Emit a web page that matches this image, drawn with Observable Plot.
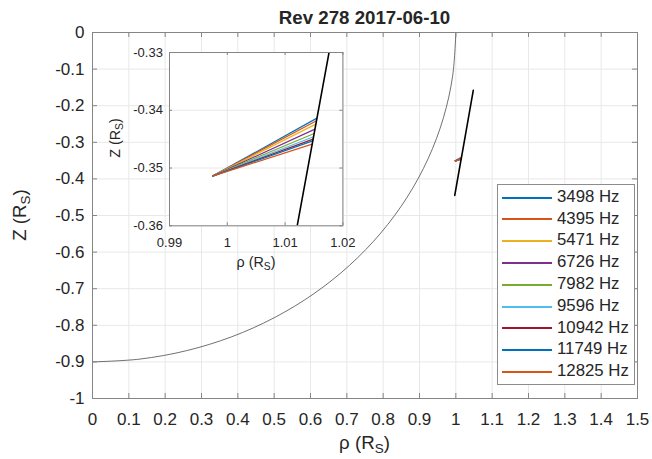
<!DOCTYPE html>
<html><head><meta charset="utf-8">
<script src="https://cdn.jsdelivr.net/npm/d3@7"></script>
<script src="https://cdn.jsdelivr.net/npm/@observablehq/plot@0.6"></script>
<style>
body{margin:0;background:#fff;}
#wrap{position:relative;width:652px;height:459px;overflow:hidden;font-family:"Liberation Sans",Arial,Helvetica,sans-serif;color:#262626;background:#fff;}
#wrap svg{position:absolute;}
.lbl{position:absolute;white-space:nowrap;line-height:1;}
.lbl sub{font-size:0.72em;vertical-align:-0.32em;line-height:0;}
.rot{transform-origin:0 0;}
#legend{position:absolute;left:497px;top:184px;width:138px;height:201px;border:1px solid #8c8c8c;background:#fff;box-sizing:border-box;}
.sw{position:absolute;left:4px;width:50px;height:2px;}
.lt{position:absolute;left:59px;font-size:16.8px;line-height:1;white-space:nowrap;}
</style>
</head><body>
<div id="wrap"></div>
<script>
// ---- data ----
const title = "Rev 278 2017-06-10";
const freqLabels = ["3498 Hz","4395 Hz","5471 Hz","6726 Hz","7982 Hz","9596 Hz","10942 Hz","11749 Hz","12825 Hz"];
const rayColors = ["#0072BD","#D95319","#EDB120","#7E2F8E","#77AC30","#4DBEEE","#A2142F","#0072BD","#D95319"];
const rayStartRho = [0.99744,0.99744,0.99744,0.99744,0.99744,0.99744,0.99744,0.99744,0.99744];
const rayStartZ = [-0.3514,-0.3514,-0.3514,-0.3514,-0.3514,-0.3514,-0.3514,-0.3514,-0.3514];
const rayEndRho = [1.01551,1.01543,1.01532,1.01517,1.01503,1.01492,1.01485,1.01479,1.01469];
const rayEndZ = [-0.34136,-0.34182,-0.3424,-0.34326,-0.34402,-0.34459,-0.34499,-0.34529,-0.34586];
const trajRho = [0.997,1.01209,1.01751,1.048];
const trajZ = [-0.445,-0.36,-0.3305,-0.158];
// Saturn limb (quarter ellipse, equatorial 1, polar 0.9)
const limbRho = [1,0.9914,0.9659,0.9239,0.866,0.7934,0.7071,0.6088,0.5,0.3827,0.2588,0.1305,0];
const limbZ = [0,-0.1175,-0.2329,-0.3444,-0.45,-0.5479,-0.6364,-0.714,-0.7794,-0.8315,-0.8693,-0.8923,-0.9];
const xTicks = [0,0.1,0.2,0.3,0.4,0.5,0.6,0.7,0.8,0.9,1,1.1,1.2,1.3,1.4,1.5];
const xTickLabels = ["0","0.1","0.2","0.3","0.4","0.5","0.6","0.7","0.8","0.9","1","1.1","1.2","1.3","1.4","1.5"];
const yTicks = [-1,-0.9,-0.8,-0.7,-0.6,-0.5,-0.4,-0.3,-0.2,-0.1,0];
const yTickLabels = ["-1","-0.9","-0.8","-0.7","-0.6","-0.5","-0.4","-0.3","-0.2","-0.1","0"];
const inXTicks = [0.99,1,1.01,1.02];
const inXTickLabels = ["0.99","1","1.01","1.02"];
const inYTicks = [-0.36,-0.35,-0.34,-0.33];
const inYTickLabels = ["-0.36","-0.35","-0.34","-0.33"];

// ---- tables ----
const rays = freqLabels.map((f,i)=>({f, x1:rayStartRho[i], y1:rayStartZ[i], x2:rayEndRho[i], y2:rayEndZ[i]}));
const traj = trajRho.map((r,i)=>({x:r, y:trajZ[i]}));
const limb = limbRho.map((r,i)=>({x:r, y:limbZ[i]}));
const color = {domain: freqLabels, range: rayColors};
const gridC = "#e8e8e8", frameC = "#858585";

const wrap = document.getElementById("wrap");

// ---- main plot ----
const W=652,H=459,mL=92,mR=15,mT=32,mB=61;
const pw=W-mL-mR, ph=H-mT-mB;
const main = Plot.plot({
  width:W, height:H, marginLeft:mL, marginRight:mR, marginTop:mT, marginBottom:mB,
  x:{domain:[0,1.5]}, y:{domain:[-1,0]}, color,
  style:{fontFamily:"'Liberation Sans',Arial,sans-serif", fontSize:"17px", color:"#262626", background:"transparent", overflow:"visible"},
  marks:[
    Plot.gridX(xTicks,{stroke:gridC, strokeOpacity:1}),
    Plot.gridY(yTicks,{stroke:gridC, strokeOpacity:1}),
    Plot.line(limb,{x:"x", y:"y", curve:"catmull-rom", stroke:"#333", strokeWidth:0.7, clip:true}),
    Plot.link(rays,{x1:"x1",y1:"y1",x2:"x2",y2:"y2", stroke:"f", strokeWidth:1.5}),
    Plot.line(traj,{x:"x", y:"y", stroke:"#000", strokeWidth:1.6}),
    Plot.ruleX(xTicks,{x:d=>d, insetTop:ph-5, stroke:frameC}),
    Plot.ruleX(xTicks,{x:d=>d, insetBottom:ph-5, stroke:frameC}),
    Plot.ruleY(yTicks,{y:d=>d, insetRight:pw-5, stroke:frameC}),
    Plot.ruleY(yTicks,{y:d=>d, insetLeft:pw-5, stroke:frameC}),
    Plot.frame({stroke:frameC}),
    Plot.axisX(xTicks,{tickSize:0, tickPadding:14, label:null, tickFormat:d=>xTickLabels[xTicks.indexOf(d)], fill:"#262626"}),
    Plot.axisY(yTicks,{tickSize:0, tickPadding:8, label:null, tickFormat:d=>yTickLabels[yTicks.indexOf(d)], fill:"#262626"})
  ]
});
main.style.left="0px"; main.style.top="0px";
wrap.appendChild(main);

// ---- inset ----
const iL=169.3, iT=51.7, iW=173.4, iH=173.3;
const imL=50, imT=10, iwid=240, ihei=230;
const inset = Plot.plot({
  width:iwid, height:ihei, marginLeft:imL, marginTop:imT, marginRight:iwid-imL-iW, marginBottom:ihei-imT-iH,
  x:{domain:[0.99,1.02]}, y:{domain:[-0.36,-0.33]}, color,
  style:{fontFamily:"'Liberation Sans',Arial,sans-serif", fontSize:"13px", color:"#262626", background:"transparent", overflow:"visible"},
  marks:[
    Plot.frame({fill:"#fff", stroke:"none"}),
    Plot.gridX(inXTicks,{stroke:gridC, strokeOpacity:1}),
    Plot.gridY(inYTicks,{stroke:gridC, strokeOpacity:1}),
    Plot.link(rays,{x1:"x1",y1:"y1",x2:"x2",y2:"y2", stroke:"f", strokeWidth:1.2}),
    Plot.line(traj,{x:"x", y:"y", stroke:"#000", strokeWidth:1.6, clip:true}),
    Plot.ruleX(inXTicks,{x:d=>d, insetTop:iH-3, stroke:frameC}),
    Plot.ruleX(inXTicks,{x:d=>d, insetBottom:iH-3, stroke:frameC}),
    Plot.ruleY(inYTicks,{y:d=>d, insetRight:iW-3, stroke:frameC}),
    Plot.ruleY(inYTicks,{y:d=>d, insetLeft:iW-3, stroke:frameC}),
    Plot.frame({stroke:frameC}),
    Plot.axisX(inXTicks,{tickSize:0, tickPadding:11.8, label:null, tickFormat:d=>inXTickLabels[inXTicks.indexOf(d)], fill:"#262626"}),
    Plot.axisY(inYTicks,{tickSize:0, tickPadding:6.6, label:null, tickFormat:d=>inYTickLabels[inYTicks.indexOf(d)], fill:"#262626"})
  ]
});
inset.style.left=(iL-imL)+"px"; inset.style.top=(iT-imT)+"px";
wrap.appendChild(inset);

// ---- labels ----
function label(html, size, bold, cx, baseline, rotated){
  const d=document.createElement("div");
  d.className="lbl"+(rotated?" rot":"");
  d.innerHTML=html;
  d.style.fontSize=size+"px";
  if(bold) d.style.fontWeight="bold";
  if(!rotated){
    d.style.left=cx+"px"; d.style.top=(baseline-0.8465*size)+"px";
    d.style.transform="translateX(-50%)";
  } else {
    d.style.left=baseline+"px"; d.style.top=cx+"px";
    d.style.transform="rotate(-90deg) translate(-50%,-0.8465em)";
  }
  wrap.appendChild(d);
}
label(title,18.7,true,mL+pw/2,25.3,false);
label("&rho; (R<sub>S</sub>)",18.7,false,mL+pw/2,450,false);
label("Z (R<sub>S</sub>)",18.7,false,mT+ph/2,27.3,true);
label("&rho; (R<sub>S</sub>)",14.3,false,iL+iW/2,266.7,false);
label("Z (R<sub>S</sub>)",14.3,false,iT+iH/2,120,true);

// ---- legend ----
const lg=document.createElement("div"); lg.id="legend";
const legTop=185; // inner (padding-box) top
freqLabels.forEach((f,i)=>{
  const cy=197.7+21.78*i - legTop;
  const sw=document.createElement("div"); sw.className="sw";
  sw.style.top=(Math.round(cy)-1)+"px"; sw.style.background=rayColors[i];
  const t=document.createElement("div"); t.className="lt";
  t.style.top=(cy+0.6-0.5585*16.8)+"px"; t.textContent=f;
  lg.appendChild(sw); lg.appendChild(t);
});
wrap.appendChild(lg);
</script>
</body></html>
